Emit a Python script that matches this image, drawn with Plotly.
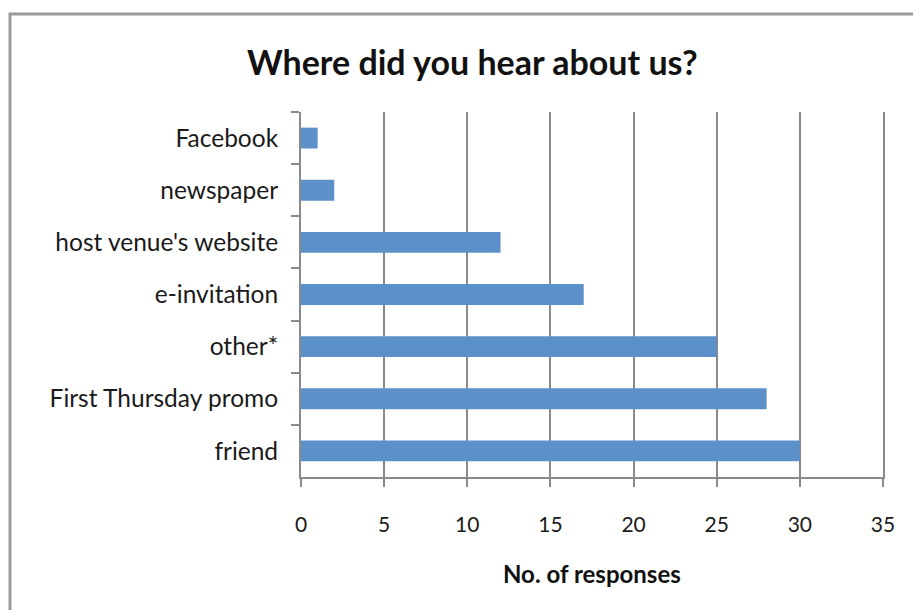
import plotly.graph_objects as go

categories = ["Facebook", "newspaper", "host venue's website", "e-invitation",
              "other*", "First Thursday promo", "friend"]
responses = [1, 2, 12, 17, 25, 28, 30]
x_ticks = [0, 5, 10, 15, 20, 25, 30, 35]

W, H = 913, 610
L, R, T, B = 301, 30, 112, 133
pw, ph = W - L - R, H - T - B

def px(xp):
    return (xp - L) / pw

def py(yp):
    return (H - B - yp) / ph

FONT = "Lato"

fig = go.Figure(go.Bar(
    x=responses, y=categories, orientation="h",
    marker=dict(color="#5B90C8", line=dict(width=0)),
    width=0.4,
))

fig.update_layout(
    width=W, height=H,
    margin=dict(l=L, r=R, t=T, b=B),
    paper_bgcolor="white", plot_bgcolor="white",
    showlegend=False,
    font=dict(family=FONT, size=24, color="#1a1a1a"),
    xaxis=dict(
        range=[0, 35], tickvals=x_ticks, showgrid=True,
        gridcolor="#8a8a8a", gridwidth=2,
        showline=True, linecolor="#8a8a8a", linewidth=2,
        ticks="outside", ticklen=8, tickcolor="#8a8a8a", tickwidth=2,
        tickfont=dict(size=21),
        ticklabelstandoff=20, zeroline=False, fixedrange=True,
    ),
    yaxis=dict(
        autorange="reversed", showgrid=False,
        showline=True, linecolor="#8a8a8a", linewidth=2, mirror=True,
        ticks="outside", ticklen=8, tickcolor="#8a8a8a", tickwidth=2,
        tickfont=dict(size=24.5),
        tickson="boundaries", ticklabelstandoff=16, fixedrange=True,
    ),
    shapes=[dict(type="rect", xref="paper", yref="paper",
                 x0=px(10), x1=px(W + 50), y0=py(H + 50), y1=py(14),
                 line=dict(color="#9a9a9a", width=3), layer="below")],
    annotations=[
        dict(text="<b>Where did you hear about us?</b>", xref="paper", yref="paper",
             x=px(472), y=py(62), showarrow=False, xanchor="center", yanchor="middle",
             font=dict(family=FONT, size=34, color="#111")),
        dict(text="<b>No. of responses</b>", xref="paper", yref="paper",
             x=px(592), y=py(573), showarrow=False, xanchor="center", yanchor="middle",
             font=dict(family=FONT, size=24, color="#111")),
    ],
)

fig.write_html("out.html", config={"displayModeBar": False},
               post_script="document.body.style.margin='0';document.body.style.overflow='hidden';")
